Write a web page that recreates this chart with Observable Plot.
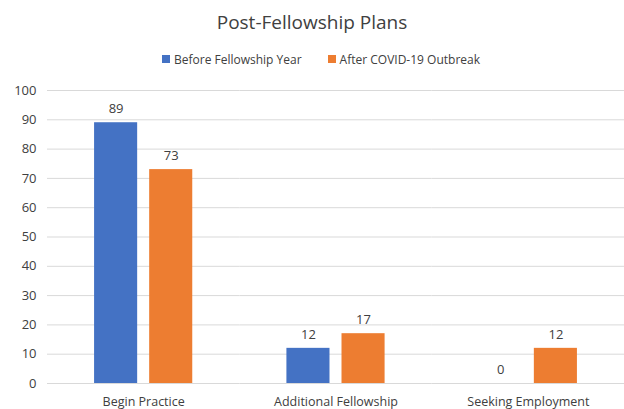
<!DOCTYPE html>
<html>
<head>
<meta charset="utf-8">
<script src="https://cdn.jsdelivr.net/npm/d3@7"></script>
<script src="https://cdn.jsdelivr.net/npm/@observablehq/plot@0.6"></script>
<style>
  html, body { margin: 0; padding: 0; background: #fff; }
  body { width: 624px; height: 409px; overflow: hidden; font-family: "Open Sans", "Liberation Sans", sans-serif; color: #595959; }
  #title { height: 44px; line-height: 44px; text-align: center; font-size: 19px; color: #404040; }
  #legend { height: 30px; display: flex; justify-content: center; align-items: center; font-size: 12px; color: #404040; gap: 26px; margin-left: 18px; }
  #legend span.sw { display: inline-block; width: 8px; height: 8px; margin-right: 4px; vertical-align: middle; position: relative; top: -1px; }
  #chart svg { display: block; }
</style>
</head>
<body>
<div id="title">Post-Fellowship Plans</div>
<div id="legend"></div>
<div id="chart"></div>
<script>
const categories = ["Begin Practice", "Additional Fellowship", "Seeking Employment"];
const seriesNames = ["Before Fellowship Year", "After COVID-19 Outbreak"];
const beforeValues = [89, 12, 0];
const afterValues = [73, 17, 12];
const seriesColors = ["#4472C4", "#ED7D31"];
const yTicks = [0, 10, 20, 30, 40, 50, 60, 70, 80, 90, 100];

const data = [];
categories.forEach((c, i) => {
  data.push({category: c, series: seriesNames[0], value: beforeValues[i]});
  data.push({category: c, series: seriesNames[1], value: afterValues[i]});
});

const legend = document.getElementById("legend");
seriesNames.forEach((s, i) => {
  const item = document.createElement("div");
  item.innerHTML = `<span class="sw" style="background:${seriesColors[i]}"></span>${s}`;
  legend.appendChild(item);
});

const chart = Plot.plot({
  width: 624,
  height: 335,
  marginLeft: 47,
  marginRight: 0,
  marginTop: 16,
  marginBottom: 26,
  style: {fontFamily: "'Open Sans', 'Liberation Sans', sans-serif", fontSize: "12px", color: "#404040", background: "white"},
  fx: {domain: categories, padding: 0, label: null, axis: null, round: false},
  x: {domain: seriesNames, axis: null, paddingInner: 0.218, paddingOuter: 0.8545, round: false},
  y: {domain: [0, 100], ticks: yTicks, label: null, axis: null},
  color: {domain: seriesNames, range: seriesColors},
  marks: [
    Plot.gridY(yTicks, {stroke: "#d9d9d9", strokeOpacity: 1, strokeWidth: 1}),
    Plot.axisY(yTicks, {tickSize: 0, tickPadding: 11, fontSize: 13, label: null}),
    Plot.barY(data, {fx: "category", x: "series", y: "value", fill: "series"}),
    Plot.text(data, {fx: "category", x: "series", y: "value", text: d => String(d.value), dy: -14, fontSize: 13, fill: "#404040"}),
    Plot.axisFx({anchor: "bottom", tickSize: 0, tickPadding: 14, fontSize: 12.5, label: null})
  ]
});
document.getElementById("chart").appendChild(chart);
</script>
</body>
</html>
